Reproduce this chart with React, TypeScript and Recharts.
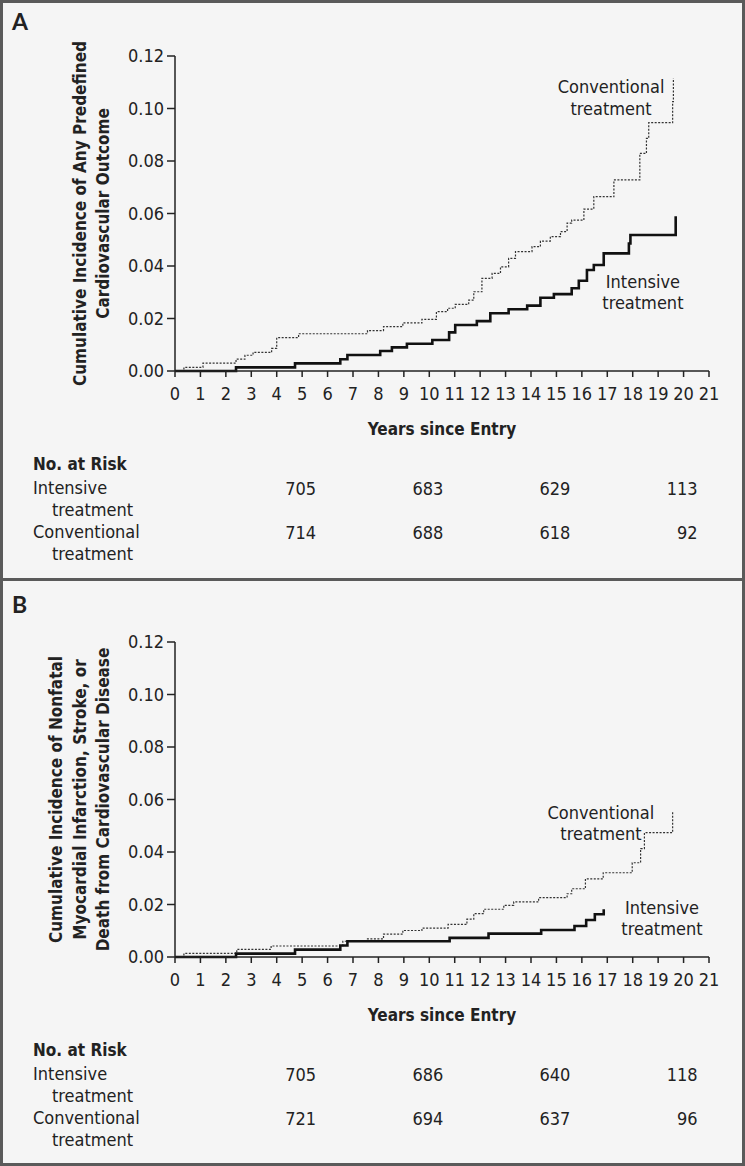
import { LineChart, Line, XAxis, YAxis, ReferenceDot } from 'recharts';

const FONT = "'DejaVu Sans Condensed', 'Liberation Sans Narrow', Lato, sans-serif";
const INK = '#222';

const years = Array.from({ length: 22 }, (_, i) => i);
const yTicks = [0, 0.02, 0.04, 0.06, 0.08, 0.1, 0.12];
const riskYears = [5, 10, 15, 20];

// panel A: any predefined cardiovascular outcome
const convA = [
  { t: 0, v: 0 }, { t: 0.35, v: 0.0014 }, { t: 1.1, v: 0.003 }, { t: 2.4, v: 0.0045 },
  { t: 2.75, v: 0.006 }, { t: 3.07, v: 0.0071 }, { t: 3.8, v: 0.0086 }, { t: 4.0, v: 0.0127 },
  { t: 4.86, v: 0.0142 }, { t: 7.57, v: 0.0154 }, { t: 8.2, v: 0.0169 }, { t: 8.96, v: 0.0183 },
  { t: 9.71, v: 0.0197 }, { t: 10.28, v: 0.0226 }, { t: 10.72, v: 0.0239 }, { t: 11.02, v: 0.0254 },
  { t: 11.55, v: 0.027 }, { t: 11.75, v: 0.0302 }, { t: 12.07, v: 0.0353 }, { t: 12.47, v: 0.0372 },
  { t: 12.8, v: 0.0397 }, { t: 13.12, v: 0.0429 }, { t: 13.39, v: 0.0455 }, { t: 14.04, v: 0.0474 },
  { t: 14.37, v: 0.0495 }, { t: 14.76, v: 0.0512 }, { t: 15.16, v: 0.0531 }, { t: 15.42, v: 0.0563 },
  { t: 15.6, v: 0.0575 }, { t: 16.08, v: 0.0617 }, { t: 16.47, v: 0.0664 }, { t: 17.26, v: 0.0728 },
  { t: 18.28, v: 0.0829 }, { t: 18.54, v: 0.0886 }, { t: 18.63, v: 0.0946 }, { t: 19.57, v: 0.1026 },
  { t: 19.6, v: 0.1115 },
];
const intA = [
  { t: 0, v: 0 }, { t: 2.4, v: 0.0014 }, { t: 4.72, v: 0.0029 }, { t: 6.5, v: 0.0045 },
  { t: 6.78, v: 0.0061 }, { t: 8.07, v: 0.0076 }, { t: 8.53, v: 0.009 }, { t: 9.12, v: 0.0104 },
  { t: 10.12, v: 0.0118 }, { t: 10.78, v: 0.0147 }, { t: 11.02, v: 0.0175 }, { t: 11.87, v: 0.019 },
  { t: 12.4, v: 0.022 }, { t: 13.12, v: 0.0235 }, { t: 13.85, v: 0.0249 }, { t: 14.37, v: 0.0279 },
  { t: 14.9, v: 0.0293 }, { t: 15.6, v: 0.0315 }, { t: 15.88, v: 0.0344 }, { t: 16.2, v: 0.0385 },
  { t: 16.47, v: 0.0404 }, { t: 16.86, v: 0.0448 }, { t: 17.85, v: 0.0486 }, { t: 17.91, v: 0.0518 },
  { t: 19.69, v: 0.059 },
];
const riskIntA = [705, 683, 629, 113];
const riskConvA = [714, 688, 618, 92];

// panel B: nonfatal MI, stroke, or CV death
const convB = [
  { t: 0, v: 0 }, { t: 0.35, v: 0.0014 }, { t: 2.43, v: 0.0029 }, { t: 3.78, v: 0.0042 },
  { t: 6.6, v: 0.006 }, { t: 7.57, v: 0.0069 }, { t: 8.2, v: 0.0087 }, { t: 8.96, v: 0.0101 },
  { t: 9.71, v: 0.011 }, { t: 10.74, v: 0.0124 }, { t: 11.48, v: 0.0144 }, { t: 11.75, v: 0.0165 },
  { t: 12.14, v: 0.0182 }, { t: 12.93, v: 0.0197 }, { t: 13.32, v: 0.021 }, { t: 14.3, v: 0.0226 },
  { t: 15.42, v: 0.0241 }, { t: 15.6, v: 0.026 }, { t: 16.14, v: 0.0298 }, { t: 16.84, v: 0.0321 },
  { t: 17.98, v: 0.0359 }, { t: 18.31, v: 0.0413 }, { t: 18.46, v: 0.0474 }, { t: 19.57, v: 0.0556 },
];
const intB = [
  { t: 0, v: 0 }, { t: 2.4, v: 0.0013 }, { t: 4.72, v: 0.0028 }, { t: 6.5, v: 0.0044 },
  { t: 6.78, v: 0.006 }, { t: 10.8, v: 0.0073 }, { t: 12.33, v: 0.0089 }, { t: 14.4, v: 0.0103 },
  { t: 15.71, v: 0.0118 }, { t: 16.17, v: 0.0141 }, { t: 16.51, v: 0.0163 }, { t: 16.86, v: 0.0182 },
];
const riskIntB = [705, 686, 640, 118];
const riskConvB = [721, 694, 637, 96];

const labelA = ['Cumulative Incidence of Any Predefined', 'Cardiovascular Outcome'];
const labelB = ['Cumulative Incidence of Nonfatal', 'Myocardial Infarction, Stroke, or', 'Death from Cardiovascular Disease'];

const noteContent = (lines: string[]) => (props: any) => {
  const vb = props.viewBox || {};
  const cx = vb.x + (vb.width || 0) / 2;
  const cy = vb.y + (vb.height || 0) / 2;
  const y0 = cy - ((lines.length - 1) * 21.5) / 2;
  return (
    <text textAnchor="middle" fontFamily={FONT} fontSize={18} fill={INK}>
      {lines.map((l, i) => (
        <tspan key={i} x={cx} y={y0 + i * 21.5} dominantBaseline="central">{l}</tspan>
      ))}
    </text>
  );
};

const yLabelContent = (lines: string[]) => (props: any) => {
  const vb = props.viewBox || {};
  const cy = vb.y + vb.height / 2;
  const lastX = vb.x + vb.width - 72;
  return (
    <g>
      {lines.map((l, i) => {
        const x = lastX - (lines.length - 1 - i) * 23.5;
        return (
          <text key={i} x={x} y={cy} transform={`rotate(-90 ${x} ${cy})`} textAnchor="middle"
            dominantBaseline="central" fontFamily={FONT} fontSize={17} fontWeight="bold" fill={INK}>
            {l}
          </text>
        );
      })}
    </g>
  );
};

const xLabelContent = (props: any) => {
  const vb = props.viewBox || {};
  return (
    <text x={vb.x + vb.width / 2} y={vb.y + 58} textAnchor="middle" dominantBaseline="central"
      fontFamily={FONT} fontSize={17} fontWeight="bold" fill={INK}>
      Years since Entry
    </text>
  );
};

// year tick label, plus the no.-at-risk figures under the years that carry them
const yearTick = (rows: number[][]) => (props: any) => {
  const { x, y, payload } = props;
  const i = riskYears.indexOf(payload.value);
  return (
    <g>
      <text x={x} y={y + 16} textAnchor="middle" dominantBaseline="central"
        fontFamily={FONT} fontSize={18} fill={INK}>
        {payload.value}
      </text>
      {i >= 0 && rows.map((r, k) => (
        <text key={k} x={x + 14} y={y + 111 + k * 44} textAnchor="end" dominantBaseline="central"
          fontFamily={FONT} fontSize={18} fill={INK}>
          {r[i]}
        </text>
      ))}
    </g>
  );
};

type PanelProps = {
  letter: string;
  top: number;
  height: number;
  shift: number;
  yLabel: string[];
  conv: { t: number; v: number }[];
  int: { t: number; v: number }[];
  riskInt: number[];
  riskConv: number[];
  convNote: { t: number; v: number };
  intNote: { t: number; v: number };
};

const Panel = (p: PanelProps) => {
  const txt = { position: 'absolute' as const, fontFamily: FONT, fontSize: 18, color: INK, lineHeight: '22px', whiteSpace: 'nowrap' as const };
  return (
    <div style={{ position: 'absolute', left: 0, top: p.top, width: 745, height: p.height }}>
      <LineChart width={745} height={p.height} margin={{ top: 56 + p.shift, right: 36, bottom: 0, left: 0 }}>
        <XAxis xAxisId="t" type="number" dataKey="t" domain={[0, 21]} ticks={years} interval={0}
          allowDecimals={false} tickSize={6} tickMargin={0} height={209} stroke={INK} strokeWidth={1.5}
          tick={yearTick([p.riskInt, p.riskConv])} label={{ content: xLabelContent }} />
        <YAxis type="number" domain={[0, 0.12]} ticks={yTicks} interval={0} width={175}
          tickSize={8} tickMargin={3} stroke={INK} strokeWidth={1.5}
          tickFormatter={(v: number) => v.toFixed(2)}
          tick={{ fill: INK, fontSize: 18, fontFamily: FONT }} label={{ content: yLabelContent(p.yLabel) }} />
        <Line xAxisId="t" data={p.conv} dataKey="v" type="stepAfter" stroke="#333" strokeWidth={1.2}
          strokeDasharray="2 1.5" dot={false} isAnimationActive={false} />
        <Line xAxisId="t" data={p.int} dataKey="v" type="stepAfter" stroke="#111" strokeWidth={2.6}
          dot={false} isAnimationActive={false} />
        <ReferenceDot xAxisId="t" x={p.convNote.t} y={p.convNote.v} r={0} fill="none" stroke="none"
          label={{ content: noteContent(['Conventional', 'treatment']) }} />
        <ReferenceDot xAxisId="t" x={p.intNote.t} y={p.intNote.v} r={0} fill="none" stroke="none"
          label={{ content: noteContent(['Intensive', 'treatment']) }} />
      </LineChart>
      <div style={{ ...txt, left: 12, top: 10 + p.shift / 2, fontSize: 23, fontWeight: 'bold', fontFamily: 'Lato, sans-serif' }}>{p.letter}</div>
      <div style={{ ...txt, left: 33, top: 453 + p.shift, fontWeight: 'bold', fontSize: 17 }}>No. at Risk</div>
      <div style={{ ...txt, left: 33, top: 477 + p.shift }}>Intensive</div>
      <div style={{ ...txt, left: 52, top: 499 + p.shift }}>treatment</div>
      <div style={{ ...txt, left: 33, top: 521 + p.shift }}>Conventional</div>
      <div style={{ ...txt, left: 52, top: 543 + p.shift }}>treatment</div>
    </div>
  );
};

export default function App() {
  return (
    <div style={{ position: 'absolute', left: 0, top: 0, width: 745, height: 1166, background: '#f5f5f5', overflow: 'hidden' }}>
      <Panel letter="A" top={0} height={580} shift={0} yLabel={labelA} conv={convA} int={intA}
        riskInt={riskIntA} riskConv={riskConvA} convNote={{ t: 17.15, v: 0.1042 }} intNote={{ t: 18.4, v: 0.0301 }} />
      <Panel letter="B" top={580} height={586} shift={6} yLabel={labelB} conv={convB} int={intB}
        riskInt={riskIntB} riskConv={riskConvB} convNote={{ t: 16.75, v: 0.051 }} intNote={{ t: 19.15, v: 0.0149 }} />
      <div style={{ position: 'absolute', left: 0, top: 578, width: 745, height: 3, background: '#5a5a5a' }} />
      <div style={{ position: 'absolute', inset: 0, border: '3px solid #5a5a5a', boxSizing: 'border-box' }} />
    </div>
  );
}
